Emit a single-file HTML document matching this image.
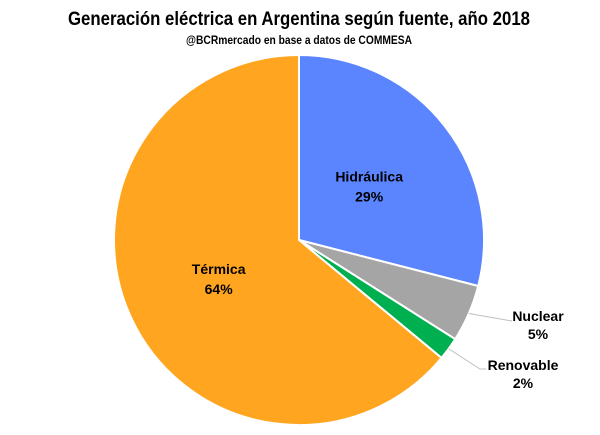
<!DOCTYPE html>
<html><head><meta charset="utf-8"><style>
html,body{margin:0;padding:0;background:#fff;}
svg{display:block;font-family:"Liberation Sans Narrow","Liberation Sans",sans-serif;}
</style></head><body>
<svg id="chart" width="600" height="435" viewBox="0 0 600 435">
<text x="299" y="25" text-anchor="middle" font-size="19" font-weight="bold" fill="#000" textLength="462" lengthAdjust="spacingAndGlyphs">Generación eléctrica en Argentina según fuente, año 2018</text>
<text x="299" y="44" text-anchor="middle" font-size="12" font-weight="bold" fill="#000" textLength="226" lengthAdjust="spacingAndGlyphs">@BCRmercado en base a datos de COMMESA</text>
<g id="slices"></g>
<g id="labels"></g>
</svg>
<script>
const categories = ["Hidráulica","Nuclear","Renovable","Térmica"];
const values = [29,5,2,64];
const colors = ["#5B84FF","#A5A5A5","#00B050","#FFA51F"];
const cx=299, cy=240, r=185;
const ns="http://www.w3.org/2000/svg";
const total=values.reduce((a,b)=>a+b,0);
const gS=document.getElementById('slices'), gL=document.getElementById('labels');
function pt(a,rr){return [cx+rr*Math.sin(a), cy-rr*Math.cos(a)];}
function txt(x,y,s,name){
  const t=document.createElementNS(ns,'text');
  t.setAttribute('x',x);t.setAttribute('y',y);t.setAttribute('text-anchor','middle');
  t.setAttribute('font-size','14');t.setAttribute('font-weight','bold');t.setAttribute('fill','#000');
  t.setAttribute('font-family','"Liberation Sans",sans-serif');
  t.textContent=s;
  
  
  gL.appendChild(t);
}
let acc=0;
values.forEach((v,i)=>{
  const a0=acc/total*2*Math.PI; acc+=v; const a1=acc/total*2*Math.PI;
  const p0=pt(a0,r), p1=pt(a1,r);
  const large=(a1-a0)>Math.PI?1:0;
  const p=document.createElementNS(ns,'path');
  p.setAttribute('d',`M${cx},${cy} L${p0[0]},${p0[1]} A${r},${r} 0 ${large} 1 ${p1[0]},${p1[1]} Z`);
  p.setAttribute('fill',colors[i]);p.setAttribute('stroke','#fff');p.setAttribute('stroke-width','2');
  
  
  gS.appendChild(p);
  const am=(a0+a1)/2;
  const nm=categories[i].toLowerCase().normalize('NFD').replace(/[\u0300-\u036f]/g,'');
  if(v>=10){
    const c=pt(am,r*0.48);
    txt(c[0],c[1]-4,categories[i],'label-'+nm);
    txt(c[0],c[1]+16,v+'%','value-'+nm);
  } else {
    const e=pt(am,r);
    const lx = i===1 ? 512 : 480, ly = i===1 ? 321 : 369;
    const l=document.createElementNS(ns,'polyline');
    l.setAttribute('points', i===1 ? `${e[0]},${e[1]} ${lx},${ly}` : `${e[0]},${e[1]} ${lx},${ly} ${lx+6},${ly}`);
    l.setAttribute('fill','none');l.setAttribute('stroke','#BFBFBF');l.setAttribute('stroke-width','1');
    
    
    gL.appendChild(l);
    const tx = i===1 ? 538 : 523, ty = i===1 ? 321 : 370;
    txt(tx,ty,categories[i],'label-'+nm);
    txt(tx,ty+18,v+'%','value-'+nm);
  }
});
</script>
</body></html>
